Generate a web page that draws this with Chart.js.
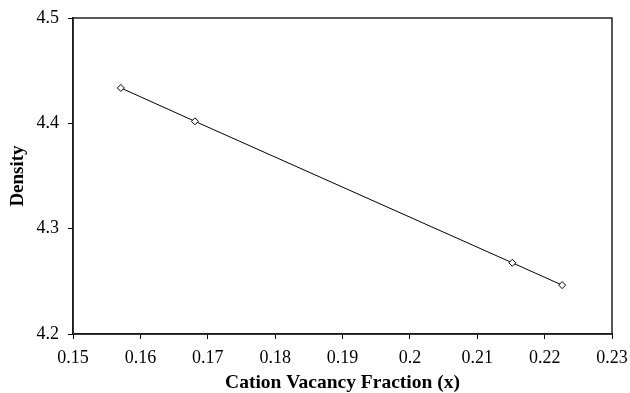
<!DOCTYPE html>
<html>
<head>
<meta charset="utf-8">
<script src="https://cdn.jsdelivr.net/npm/chart.js@4"></script>
<style>
  html, body { margin: 0; padding: 0; background: #fff; }
  #wrap { width: 630px; height: 393px; }
</style>
</head>
<body>
<div id="wrap"><canvas id="densityChart" width="630" height="393"></canvas></div>
<script>
// density vs cation vacancy fraction
const vacancyFraction = [0.1571, 0.1681, 0.2152, 0.2226];
const density = [4.4336, 4.4019, 4.2676, 4.2464];

const serif = "'Liberation Serif', 'Times New Roman', serif";

// box around the plot area (top and right edges)
const frame = {
    id: 'frame',
    afterDraw(chart) {
        const { ctx, chartArea: a } = chart;
        ctx.save();
        ctx.strokeStyle = '#222';
        ctx.lineWidth = 1.5;
        ctx.strokeRect(a.left, a.top, a.right - a.left, a.bottom - a.top);
        ctx.restore();
    }
};

const ctx = document.getElementById('densityChart').getContext('2d');
new Chart(ctx, {
    type: 'scatter',
    data: {
        datasets: [{
            data: vacancyFraction.map((x, i) => ({ x, y: density[i] })),
            showLine: true,
            borderColor: '#000',
            borderWidth: 1,
            pointStyle: 'rectRot',
            pointRadius: 3.5,
            pointBackgroundColor: '#fff',
            pointBorderColor: '#000',
            pointBorderWidth: 1
        }]
    },
    options: {
        responsive: false,
        animation: false,
        layout: { padding: { top: 18, right: 18, left: 0, bottom: 0 } },
        plugins: { legend: { display: false }, tooltip: { enabled: false } },
        scales: {
            x: {
                type: 'linear',
                min: 0.15, max: 0.23,
                afterFit: s => {
                    s.height = 59;
                    s.paddingLeft = 0;
                    s.paddingRight = 0;
                },
                grid: { display: true, drawOnChartArea: false, drawTicks: true, tickLength: 5, color: '#000' },
                border: { display: true, color: '#000', width: 1.5 },
                ticks: {
                    stepSize: 0.01,
                    padding: 8,
                    color: '#000',
                    font: { family: serif, size: 18 },
                    maxRotation: 0,
                    callback: v => String(+v.toFixed(2))
                },
                title: {
                    display: true,
                    text: 'Cation Vacancy Fraction (x)',
                    color: '#000',
                    font: { family: serif, size: 19.5, weight: 'bold', lineHeight: 1 },
                    padding: { top: 4, bottom: 0 }
                }
            },
            y: {
                min: 4.2, max: 4.5,
                afterFit: s => {
                    s.width = 73;
                    s.paddingTop = 0;
                    s.paddingBottom = 0;
                },
                grid: { display: true, drawOnChartArea: false, drawTicks: true, tickLength: 5, color: '#000' },
                border: { display: true, color: '#000', width: 1.5 },
                ticks: {
                    stepSize: 0.1,
                    padding: 9,
                    color: '#000',
                    font: { family: serif, size: 18 },
                    callback: v => v.toFixed(1)
                },
                title: {
                    display: true,
                    text: 'Density',
                    color: '#000',
                    font: { family: serif, size: 19, weight: 'bold' },
                    padding: { top: 7, bottom: 0 }
                }
            }
        }
    },
    plugins: [frame]
});
</script>
</body>
</html>
